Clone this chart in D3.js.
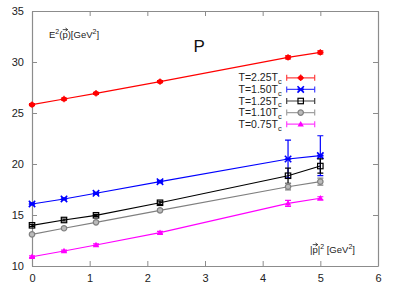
<!DOCTYPE html>
<html>
<head>
<meta charset="utf-8">
<script src="https://cdn.jsdelivr.net/npm/d3@7"></script>
<style>
  body { margin: 0; background: #fff; }
  text { font-family: "Liberation Sans", Arial, sans-serif; }
</style>
</head>
<body>
<div id="wrapper"></div>
<script>
/* DATA */
const momenta = [0, 0.555, 1.11, 2.22, 4.44, 5.0];
const seriesNames = ['2.25', '1.50', '1.25', '1.10', '0.75'];
const valuesT225 = [25.82, 26.37, 26.93, 28.08, 30.45, 30.94];
const errorsT225 = [0.1, 0.1, 0.1, 0.1, 0.15, 0.15];
const valuesT150 = [16.08, 16.57, 17.13, 18.27, 20.49, 20.82];
const errorsT150 = [0.1, 0.1, 0.1, 0.12, 1.85, 1.95];
const valuesT125 = [13.99, 14.51, 14.97, 16.2, 18.85, 19.8];
const errorsT125 = [0.1, 0.1, 0.1, 0.15, 0.75, 0.7];
const valuesT110 = [13.1, 13.7, 14.28, 15.46, 17.77, 18.27];
const errorsT110 = [0.1, 0.1, 0.1, 0.12, 0.3, 0.35];
const valuesT075 = [10.91, 11.47, 12.06, 13.27, 16.14, 16.64];
const errorsT075 = [0.08, 0.08, 0.1, 0.12, 0.3, 0.15];
const xTicks = [0, 1, 2, 3, 4, 5, 6];
const yTicks = [10, 15, 20, 25, 30, 35];

const series = [
  { name: seriesNames[0], values: valuesT225, errors: errorsT225, color: '#ff0000', marker: 'diamond' },
  { name: seriesNames[1], values: valuesT150, errors: errorsT150, color: '#0000ff', marker: 'cross' },
  { name: seriesNames[2], values: valuesT125, errors: errorsT125, color: '#000000', marker: 'square' },
  { name: seriesNames[3], values: valuesT110, errors: errorsT110, color: '#808080', marker: 'circle' },
  { name: seriesNames[4], values: valuesT075, errors: errorsT075, color: '#ff00ff', marker: 'triangle' },
];

/* DIMENSIONS */
const dimensions = {
  width: 395,
  height: 289,
  margin: { top: 11, right: 17, bottom: 23, left: 32 },
};
dimensions.boundedWidth = dimensions.width - dimensions.margin.left - dimensions.margin.right;
dimensions.boundedHeight = dimensions.height - dimensions.margin.top - dimensions.margin.bottom;

/* SCALES */
const xScale = d3.scaleLinear().domain([0, 6]).range([0, dimensions.boundedWidth]);
const yScale = d3.scaleLinear().domain([10, 35]).range([dimensions.boundedHeight, 0]);

const svg = d3.select('#wrapper').append('svg')
  .attr('width', dimensions.width)
  .attr('height', dimensions.height);

const bounds = svg.append('g')
  .attr('transform', `translate(${dimensions.margin.left},${dimensions.margin.top})`);

/* AXES */
const frameColor = '#8c8c8c';
const tickLen = 5;
const axisGroup = bounds.append('g');

axisGroup.append('g')
  .attr('transform', `translate(0,${dimensions.boundedHeight})`)
  .call(d3.axisBottom(xScale).tickValues(xTicks).tickFormat(d3.format('d'))
    .tickSizeInner(-tickLen).tickSizeOuter(0).tickPadding(8));
axisGroup.append('g')
  .call(d3.axisTop(xScale).tickValues(xTicks).tickSizeInner(-tickLen).tickSizeOuter(0).tickFormat(''));
axisGroup.append('g')
  .call(d3.axisLeft(yScale).tickValues(yTicks).tickFormat(d3.format('d'))
    .tickSizeInner(-tickLen).tickSizeOuter(0).tickPadding(8));
axisGroup.append('g')
  .attr('transform', `translate(${dimensions.boundedWidth},0)`)
  .call(d3.axisRight(yScale).tickValues(yTicks).tickSizeInner(-tickLen).tickSizeOuter(0).tickFormat(''));

axisGroup.selectAll('.domain').attr('stroke', frameColor).attr('stroke-width', 1.2);
axisGroup.selectAll('.tick line').attr('stroke', frameColor);
axisGroup.selectAll('.tick text')
  .attr('font-size', 11)
  .attr('fill', '#222')
  .attr('font-family', '"Liberation Sans", Arial, sans-serif');

/* MARKERS */
function drawMarker(g, type, color, size) {
  const s = size;
  if (type === 'diamond') {
    g.append('circle').attr('r', s * 0.8).attr('fill', color);
    g.append('path').attr('d', `M${-s},0L${s},0M0,${-s}L0,${s}`).attr('stroke', color).attr('stroke-width', 1.2);
  } else if (type === 'cross') {
    g.append('path')
      .attr('d', `M${-s},${-s}L${s},${s}M${-s},${s}L${s},${-s}M${-s},0L${s},0`)
      .attr('stroke', color).attr('stroke-width', 1.6);
  } else if (type === 'square') {
    g.append('rect').attr('x', -s * 0.85).attr('y', -s * 0.85)
      .attr('width', s * 1.7).attr('height', s * 1.7)
      .attr('fill', 'none').attr('stroke', color).attr('stroke-width', 1.2);
  } else if (type === 'circle') {
    g.append('circle').attr('r', s * 0.85).attr('fill', '#bbb').attr('stroke', color).attr('stroke-width', 1.2);
  } else if (type === 'triangle') {
    g.append('path')
      .attr('d', `M0,${-s}L${s},${s * 0.7}L${-s},${s * 0.7}Z`)
      .attr('fill', color);
  }
}

/* DRAW DATA */
const lineGenerator = d3.line()
  .x((d, i) => xScale(momenta[i]))
  .y(d => yScale(d));

const capW = 3;
series.forEach(s => {
  const g = bounds.append('g');
  g.append('path')
    .attr('d', lineGenerator(s.values))
    .attr('fill', 'none')
    .attr('stroke', s.color)
    .attr('stroke-width', 1.2);

  s.values.forEach((v, i) => {
    const x = xScale(momenta[i]);
    const y0 = yScale(v - s.errors[i]);
    const y1 = yScale(v + s.errors[i]);
    g.append('path')
      .attr('d', `M${x},${y0}L${x},${y1}M${x - capW},${y0}L${x + capW},${y0}M${x - capW},${y1}L${x + capW},${y1}`)
      .attr('stroke', s.color)
      .attr('stroke-width', 1.2)
      .attr('fill', 'none');
    drawMarker(g.append('g').attr('transform', `translate(${x},${yScale(v)})`), s.marker, s.color, 3.2);
  });
});

/* LEGEND */
const legend = bounds.append('g')
  .attr('transform', `translate(${xScale(4.33)},${yScale(28.45)})`);
const rowH = 11.6;
series.forEach((s, i) => {
  const row = legend.append('g').attr('transform', `translate(0,${i * rowH})`);
  const label = row.append('text')
    .attr('text-anchor', 'end')
    .attr('dy', '0.35em')
    .attr('font-size', 10.5)
    .attr('fill', '#222');
  label.append('tspan').text(`T=${s.name}T`);
  label.append('tspan').text('c').attr('font-size', 7.5).attr('dy', '0.35em');
  const x0 = 5, x1 = 33;
  row.append('path')
    .attr('d', `M${x0},0L${x1},0M${x0},-3L${x0},3M${x1},-3L${x1},3`)
    .attr('stroke', s.color).attr('stroke-width', 1.2).attr('stroke-opacity', 0.75);
  drawMarker(row.append('g').attr('transform', `translate(${(x0 + x1) / 2},0)`), s.marker, s.color, 3.2);
});

/* LABELS */
// draws a small vector arrow above the character at index idx of a text node
function vectorArrow(textSel, idx) {
  const box = textSel.node().getExtentOfChar(idx);
  const ax0 = box.x + 0.3, ax1 = box.x + box.width;
  const ay = box.y + 0.6;
  bounds.append('path')
    .attr('d', `M${ax0},${ay}L${ax1},${ay}M${ax1 - 2.2},${ay - 1.6}L${ax1},${ay}L${ax1 - 2.2},${ay + 1.6}`)
    .attr('fill', 'none')
    .attr('stroke', '#222')
    .attr('stroke-width', 0.8);
}

const yLabel = bounds.append('text')
  .attr('x', 17).attr('y', 27)
  .attr('font-size', 9.5)
  .attr('fill', '#222');
yLabel.append('tspan').text('E');
yLabel.append('tspan').text('2').attr('font-size', 7).attr('dy', -4);
yLabel.append('tspan').text('(p)[GeV').attr('dy', 4);
yLabel.append('tspan').text('2').attr('font-size', 7).attr('dy', -4);
yLabel.append('tspan').text(']').attr('dy', 4);
vectorArrow(yLabel, 3);

bounds.append('text')
  .attr('x', xScale(2.8)).attr('y', 41)
  .attr('font-size', 17)
  .attr('fill', '#111')
  .text('P');

const xLabel = bounds.append('text')
  .attr('x', xScale(4.82)).attr('y', 242)
  .attr('font-size', 9.5)
  .attr('fill', '#222');
xLabel.append('tspan').text('|p|');
xLabel.append('tspan').text('2').attr('font-size', 7).attr('dy', -4);
xLabel.append('tspan').text(' [GeV').attr('dy', 4);
xLabel.append('tspan').text('2').attr('font-size', 7).attr('dy', -4);
xLabel.append('tspan').text(']').attr('dy', 4);
vectorArrow(xLabel, 1);
</script>
</body>
</html>
